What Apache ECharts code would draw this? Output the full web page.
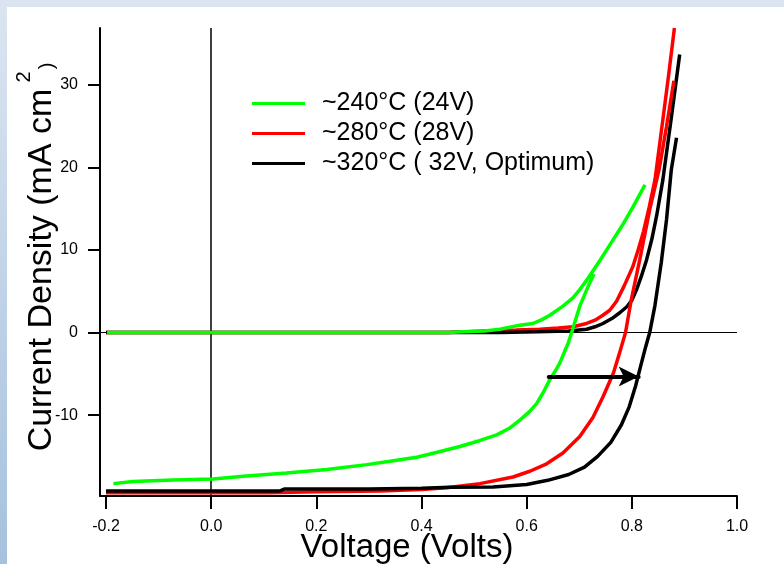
<!DOCTYPE html>
<html>
<head>
<meta charset="utf-8">
<script src="https://cdn.jsdelivr.net/npm/echarts@6/dist/echarts.min.js"></script>
<style>
  html, body { margin: 0; padding: 0; }
  #chart {
    width: 784px;
    height: 564px;
    background:
      linear-gradient(#fff, #fff) 7px 7px / 777px 557px no-repeat,
      linear-gradient(to bottom, #dbe5f1, #a6c1de);
  }
</style>
</head>
<body>
<div id="chart"></div>
<script>
  // J-V curves, voltage (V) vs current density (mA cm-2)
  const xTicks = [-0.2, 0, 0.2, 0.4, 0.6, 0.8, 1.0]
  const yTicks = [-10, 0, 10, 20, 30]
  const legendNames = ['~240°C (24V)', '~280°C (28V)', '~320°C ( 32V, Optimum)']

  const greenDark = [
    [-0.198, 0], [0.30, 0], [0.45, 0], [0.48, 0.1], [0.52, 0.2], [0.549, 0.4],
    [0.587, 0.9], [0.612, 1.1], [0.630, 1.6], [0.644, 2.1], [0.669, 3.2], [0.688, 4.2],
    [0.701, 5.2], [0.717, 6.6], [0.739, 8.7], [0.760, 10.8], [0.782, 13.0], [0.802, 15.2],
    [0.825, 17.9]
  ]
  const greenLight = [
    [-0.186, -18.3], [-0.149, -18.05], [-0.072, -17.85], [0.004, -17.75], [0.061, -17.4],
    [0.143, -17.0], [0.220, -16.6], [0.296, -16.0], [0.340, -15.6], [0.391, -15.1],
    [0.430, -14.5], [0.473, -13.8], [0.510, -13.1], [0.543, -12.4], [0.567, -11.6],
    [0.587, -10.6], [0.605, -9.6], [0.619, -8.6], [0.632, -7.2], [0.644, -5.7],
    [0.655, -4.6], [0.663, -3.7], [0.672, -2.3], [0.679, -1.3], [0.687, 0.3],
    [0.701, 3.2], [0.717, 5.6], [0.728, 7.1]
  ]
  const redDark = [
    [-0.2, 0], [0.45, 0], [0.52, 0.2], [0.58, 0.3], [0.625, 0.4], [0.66, 0.55],
    [0.688, 0.7], [0.714, 1.1], [0.730, 1.5], [0.745, 2.1], [0.758, 2.7], [0.771, 3.8],
    [0.785, 5.6], [0.802, 8.0], [0.812, 10.0], [0.822, 12.2], [0.833, 15.2], [0.844, 18.5],
    [0.859, 25.8], [0.870, 31.2], [0.881, 36.9]
  ]
  const redLight = [
    [-0.2, -19.4], [0.0, -19.4], [0.11, -19.4], [0.2, -19.3], [0.321, -19.2], [0.40, -19.0],
    [0.448, -18.8], [0.511, -18.3], [0.574, -17.5], [0.606, -16.8], [0.638, -15.9],
    [0.669, -14.6], [0.701, -12.6], [0.726, -10.3], [0.745, -7.8], [0.765, -4.9],
    [0.777, -2.4], [0.788, 0], [0.799, 4.0], [0.815, 8.8], [0.834, 14.9], [0.852, 19.8],
    [0.866, 25.0], [0.880, 30.5]
  ]
  const blackDark = [
    [-0.2, 0], [0.45, 0], [0.55, 0], [0.62, 0.1], [0.68, 0.2], [0.714, 0.4], [0.730, 0.7],
    [0.745, 1.1], [0.762, 1.7], [0.777, 2.4], [0.790, 3.1], [0.800, 3.9], [0.809, 5.2],
    [0.818, 6.8], [0.828, 8.8], [0.838, 11.3], [0.847, 14.1], [0.859, 18.5], [0.875, 26.0],
    [0.891, 33.7]
  ]
  const blackLight = [
    [-0.2, -19.2], [0.0, -19.2], [0.13, -19.2], [0.14, -18.95], [0.30, -18.95], [0.40, -18.85],
    [0.454, -18.75], [0.536, -18.7], [0.60, -18.4], [0.64, -17.9], [0.68, -17.2], [0.71, -16.3],
    [0.735, -15.0], [0.76, -13.3], [0.78, -11.2], [0.795, -9.0], [0.807, -6.5], [0.817, -4.0],
    [0.826, -1.8], [0.834, 0], [0.844, 3.3], [0.856, 8.5], [0.866, 13.7], [0.875, 19.7],
    [0.885, 23.6]
  ]
  const arrowFrom = [0.642, -5.32]
  const arrowTo = [0.813, -5.32]

  const font = 'Liberation Sans, Arial, sans-serif'

  function curve(name, color, data) {
    return {
      name: name,
      type: 'line',
      data: data,
      symbol: 'none',
      showSymbol: false,
      smooth: false,
      lineStyle: { color: color, width: 3.5 },
      itemStyle: { color: color },
      emphasis: { disabled: true }
    }
  }

  const chart = echarts.init(document.getElementById('chart'))

  const series = [
    curve(legendNames[1], '#ff0000', redDark),
    curve(legendNames[2], '#000000', blackDark),
    curve(legendNames[0], '#00ff00', greenDark),
    curve(legendNames[1], '#ff0000', redLight),
    curve(legendNames[2], '#000000', blackLight),
    curve(legendNames[0], '#00ff00', greenLight)
  ]
  // zero lines, kept under the curves
  series[0].markLine = {
    silent: true,
    z: 1,
    symbol: 'none',
    label: { show: false },
    emphasis: { disabled: true },
    lineStyle: { color: '#000', type: 'solid' },
    data: [
      { xAxis: 0, lineStyle: { width: 1.5 } },
      { yAxis: 0, lineStyle: { width: 1 } }
    ]
  }
  // arrow
  series[4].markLine = {
    silent: true,
    symbol: ['none', 'arrow'],
    symbolSize: [15, 20],
    label: { show: false },
    emphasis: { disabled: true },
    lineStyle: { color: '#000', type: 'solid', width: 4, cap: 'round' },
    data: [[{ coord: arrowFrom }, { coord: arrowTo }]]
  }

  const option = {
    animation: false,
    backgroundColor: 'transparent',
    grid: { left: 100, right: 47, top: 28, bottom: 68, outerBoundsMode: 'none' },
    legend: {
      data: legendNames,
      orient: 'vertical',
      left: 247,
      top: 86,
      icon: 'rect',
      itemWidth: 53,
      itemHeight: 3,
      itemGap: 5,
      selectedMode: false,
      textStyle: { fontSize: 25, color: '#000', fontFamily: font, padding: [0, 0, 0, 12] }
    },
    xAxis: {
      type: 'value',
      min: -0.2114,
      max: 1.0,
      name: 'Voltage (Volts)',
      nameLocation: 'middle',
      nameGap: 35,
      nameMoveOverlap: false,
      nameTextStyle: { fontSize: 33, color: '#000', fontFamily: font, padding: [0, 23, 0, 0] },
      axisLine: { onZero: false, lineStyle: { color: '#000', width: 2 } },
      axisTick: { show: true, length: 13, lineStyle: { color: '#000', width: 2 }, customValues: xTicks },
      axisLabel: {
        customValues: xTicks,
        formatter: v => v.toFixed(1),
        fontSize: 16,
        color: '#000',
        fontFamily: font,
        margin: 23
      },
      splitLine: { show: false }
    },
    yAxis: {
      type: 'value',
      min: -19.8,
      max: 36.9,
      axisLine: { show: true, onZero: false, lineStyle: { color: '#000', width: 2 } },
      axisTick: { show: true, length: 12, lineStyle: { color: '#000', width: 2 }, customValues: yTicks },
      axisLabel: {
        customValues: yTicks,
        fontSize: 16,
        color: '#000',
        fontFamily: font,
        margin: 22
      },
      splitLine: { show: false }
    },
    graphic: [
      {
        type: 'text', x: 42, y: 270, rotation: Math.PI / 2, silent: true,
        style: { text: 'Current Density (mA cm', font: '34px ' + font, fill: '#000', align: 'center', verticalAlign: 'middle' }
      },
      {
        type: 'text', x: 24, y: 77, rotation: Math.PI / 2, silent: true,
        style: { text: '2', font: '20px ' + font, fill: '#000', align: 'center', verticalAlign: 'middle' }
      },
      {
        type: 'text', x: 47, y: 66, rotation: Math.PI / 2, silent: true,
        style: { text: ')', font: '20px ' + font, fill: '#000', align: 'center', verticalAlign: 'middle' }
      }
    ],
    series: series
  }
  chart.setOption(option)
</script>
</body>
</html>
